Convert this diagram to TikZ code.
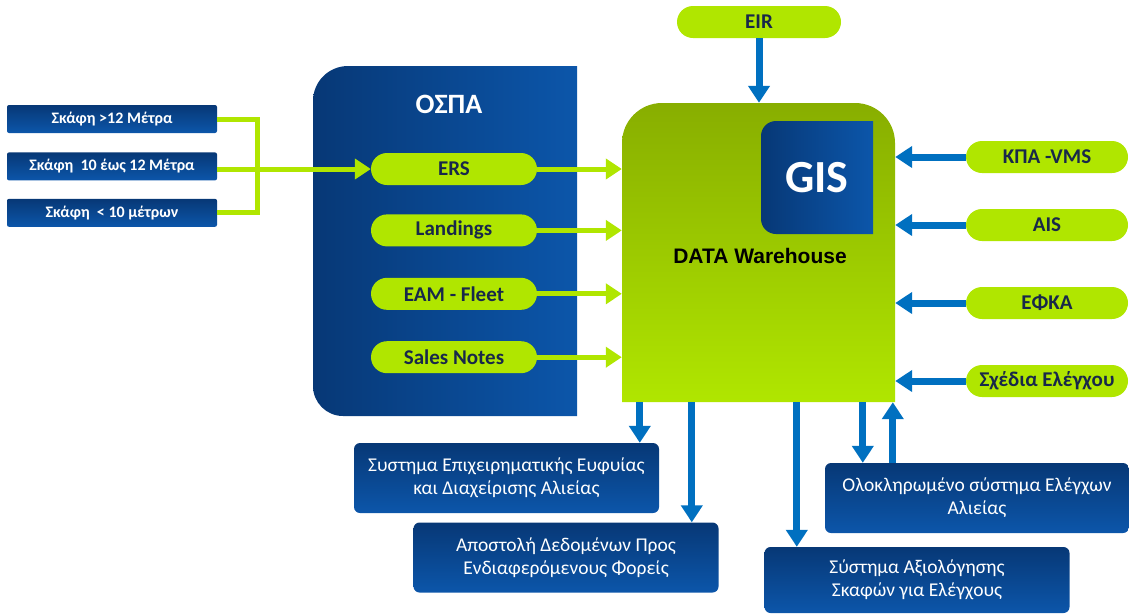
\documentclass[tikz,border=0pt]{standalone}
\usepackage{fontspec}
\setmainfont{Carlito}
\newfontfamily\arialfont{Liberation Sans}
\usetikzlibrary{positioning,arrows.meta,backgrounds}
\definecolor{limegr}{RGB}{176,230,0}
\definecolor{olivegr}{RGB}{136,174,0}
\definecolor{navydk}{RGB}{7,56,118}
\definecolor{navylt}{RGB}{12,86,170}
\definecolor{arrowblue}{RGB}{0,112,192}
\definecolor{pilltext}{RGB}{24,40,74}

\begin{document}
\begin{tikzpicture}[x=1pt,y=-1pt]
  	\tikzstyle{pill}=[rectangle, rounded corners=16pt, fill=limegr, text=pilltext, inner sep=0pt, minimum width=166pt, minimum height=32pt, font=\fontsize{21}{23}\selectfont\bfseries]
  	\tikzstyle{sbox}=[rectangle, rounded corners=2pt, top color=navydk, bottom color=navylt, text=white, inner sep=0pt, minimum width=210pt, minimum height=28pt, font=\fontsize{16}{18}\selectfont\bfseries]
  	\tikzstyle{outbox}=[rectangle, rounded corners=6pt, top color=navydk, bottom color=navylt, text=white, inner sep=0pt, minimum width=305pt, minimum height=70pt, align=center, font=\fontsize{19.5}{23}\selectfont]
  	\tikzstyle{gline}=[line width=5pt, limegr]
  	\tikzstyle{gconnect}=[-{Triangle[width=20pt,length=16pt]}, line width=5pt, limegr]
  	\tikzstyle{bconnect}=[-{Triangle[width=21pt,length=17pt]}, line width=7pt, arrowblue]
  	\useasboundingbox (0,0) rectangle (1129,614);

  	% vessels
  	\node[sbox] (s1) at (112,119) {Σκάφη >12 Μέτρα};
  	\node[sbox] (s2) [below=19pt of s1] {Σκάφη\ \ 10 έως 12 Μέτρα};
  	\node[sbox] (s3) [below=18pt of s2] {Σκάφη\ \ < 10 μέτρων};

  	% OSPA
  	\node (ospa) at (449,104) [text=white, font=\fontsize{28}{30}\selectfont\bfseries] {ΟΣΠΑ};
  	\node[pill] (ers) at (454,169) {ERS};
  	\node[pill] (land) [below=29pt of ers] {Landings};
  	\node[pill] (eam) [below=31pt of land] {EAM - Fleet};
  	\node[pill] (sales) [below=31pt of eam] {Sales Notes};

  	% data warehouse
  	\node (dw) at (758.5,252.5) [inner sep=0pt, minimum width=273pt, minimum height=299pt] {};
  	\node (gis) at (817,177.5) [inner sep=0pt, minimum width=112pt, minimum height=113pt, text=white, font=\fontsize{46}{50}\selectfont\bfseries] {GIS};
  	\node (dwlabel) at (760,256) [font=\arialfont\fontsize{21}{23}\selectfont\bfseries] {DATA Warehouse};

  	\node[pill, minimum width=164pt] (eir) at (759,22) {EIR};
  	\node[pill, minimum width=162pt] (kpa) at (1047,157) {ΚΠΑ -VMS};
  	\node[pill, minimum width=162pt] (ais) at (1047,225) {AIS};
  	\node[pill, minimum width=162pt] (efka) at (1047,303) {ΕΦΚΑ};
  	\node[pill, minimum width=162pt] (sxedia) at (1047,381) {Σχέδια Ελέγχου};

  	% outputs
  	\node[outbox] (bi) at (506.5,478) {Συστημα Επιχειρηματικής Ευφυίας\\και Διαχείρισης Αλιείας};
  	\node[outbox] (apo) at (566,557.5) {Αποστολή Δεδομένων Προς\\Ενδιαφερόμενους Φορείς};
  	\node[outbox, minimum height=66pt] (axi) at (917,580) {Σύστημα Αξιολόγησης\\Σκαφών για Ελέγχους};
  	\node[outbox, minimum width=304pt] (olo) at (977,498) {Ολοκληρωμένο σύστημα Ελέγχων\\Αλιείας};

  	\begin{scope}[on background layer]
  	\shade[left color=navydk, right color=navylt] (577,66) -- (348,66) arc[start angle=270, end angle=180, radius=35] -- (313,386) arc[start angle=180, end angle=90, radius=30] -- (577,416) -- cycle;
  	\shade[top color=olivegr, bottom color=limegr] (622,402) -- (622,143) arc[start angle=180, end angle=270, radius=40] -- (855,103) arc[start angle=270, end angle=360, radius=40] -- (895,402) -- cycle;
  	\shade[left color=navydk, right color=navylt] (873,121) -- (776,121) arc[start angle=270, end angle=180, radius=15] -- (761,219) arc[start angle=180, end angle=90, radius=15] -- (873,234) -- cycle;
  	\end{scope}

  	\draw[gline] (s1.east) -- ++(40,0) |- (s3.east);
  	\path (s2.east |- ers.west) edge [gconnect] (ers.west)
  	(ers) edge [gconnect] (ers -| dw.west)
  	(land) edge [gconnect] (land -| dw.west)
  	(eam) edge [gconnect] (eam -| dw.west)
  	(sales) edge [gconnect] (sales -| dw.west);

  	\path (eir) edge [bconnect] (eir |- dw.north)
  	(kpa) edge [bconnect] (kpa -| dw.east)
  	(ais) edge [bconnect] (ais -| dw.east)
  	(efka) edge [bconnect] (efka -| dw.east)
  	(sxedia) edge [bconnect] (sxedia -| dw.east);

  	\coordinate (p1) at ([xshift=18pt]dw.south west);
  	\coordinate (p2) at ([xshift=70pt]dw.south west);
  	\coordinate (p3) at ([xshift=175pt]dw.south west);
  	\coordinate (p4) at ([xshift=241pt]dw.south west);
  	\coordinate (p5) at ([xshift=271pt]dw.south west);
  	\path (p1) edge [bconnect] (p1 |- bi.north)
  	(p2) edge [bconnect] (p2 |- apo.north)
  	(p3) edge [bconnect] (p3 |- axi.north)
  	(p4) edge [bconnect] (p4 |- olo.north)
  	(p5 |- olo.north) edge [bconnect] (p5);
\end{tikzpicture}
\end{document}
